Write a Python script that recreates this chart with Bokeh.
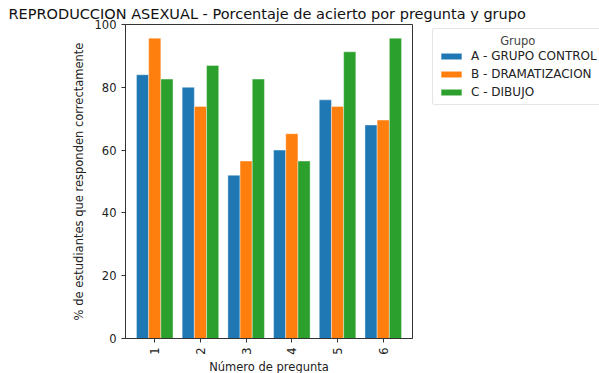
import math
from bokeh.plotting import figure
from bokeh.models import ColumnDataSource, FixedTicker, Legend, LegendItem
from bokeh.transform import dodge
from bokeh.embed import file_html
from bokeh.resources import INLINE

preguntas = ["1", "2", "3", "4", "5", "6"]
grupo_a = [84.0, 80.0, 52.0, 60.0, 76.0, 68.0]
grupo_b = [95.65, 73.91, 56.52, 65.22, 73.91, 69.57]
grupo_c = [82.61, 86.96, 82.61, 56.52, 91.30, 95.65]
series_names = ["A - GRUPO CONTROL", "B - DRAMATIZACION", "C - DIBUJO"]
colors = ["#1f77b4", "#ff7f0e", "#2ca02c"]

xs = list(range(len(preguntas)))
src = ColumnDataSource(dict(x=xs, a=grupo_a, b=grupo_b, c=grupo_c))

FONT = "DejaVu Sans"
p = figure(frame_width=287, frame_height=314, output_backend="svg", toolbar_location=None,
           x_range=(-0.64, 5.64), y_range=(0, 100),
           min_border_left=125, min_border_right=187, min_border_top=24, min_border_bottom=35)
p.title.text = "REPRODUCCION ASEXUAL - Porcentaje de acierto por pregunta y grupo"
p.title.text_font = FONT
p.title.text_font_size = "14.5px"
p.title.text_font_style = "normal"
p.title.text_color = "#111111"
p.title.offset = -117
p.title.standoff = 5

w = 0.8 / 3
renderers = []
for i, (col, name) in enumerate(zip(["a", "b", "c"], series_names)):
    r = p.vbar(x=dodge("x", (i - 1) * w), top=col, width=w, bottom=0, source=src,
               fill_color=colors[i], line_color="white", line_alpha=0.4, line_width=1)
    renderers.append(r)

p.xgrid.visible = False
p.ygrid.visible = False
p.outline_line_color = "#333333"
p.outline_line_width = 1

p.xaxis.ticker = FixedTicker(ticks=xs)
p.xaxis.major_label_overrides = {i: s for i, s in enumerate(preguntas)}
p.xaxis.major_label_orientation = math.pi / 2
p.yaxis.ticker = FixedTicker(ticks=[0, 20, 40, 60, 80, 100])
for ax in (p.xaxis, p.yaxis):
    ax.axis_line_color = "#333333"
    ax.major_tick_line_color = "#333333"
    ax.major_tick_out = 4
    ax.major_tick_in = 0
    ax.minor_tick_line_color = None
    ax.major_label_text_font = FONT
    ax.major_label_text_font_size = "11.5px"
    ax.major_label_text_color = "#222222"
    ax.axis_label_text_font = FONT
    ax.axis_label_text_font_size = "11.5px"
    ax.axis_label_text_font_style = "normal"
    ax.axis_label_text_color = "#222222"
p.xaxis.axis_label = "Número de pregunta"
p.xaxis.axis_label_standoff = 2
p.yaxis.axis_label = "% de estudiantes que responden correctamente"
p.yaxis.axis_label_standoff = 6

legend = Legend(items=[LegendItem(label=n, renderers=[r]) for n, r in zip(series_names, renderers)],
                location=(20, 233), orientation="vertical")
legend.title = " " * 17 + "Grupo"
legend.title_text_font = FONT
legend.title_text_font_size = "11.5px"
legend.title_text_font_style = "normal"
legend.title_standoff = 1
legend.label_text_font = FONT
legend.label_text_font_size = "12px"
legend.label_text_color = "#222222"
legend.glyph_width = 26
legend.glyph_height = 8
legend.label_height = 14
legend.spacing = 4
legend.padding = 5
legend.margin = 0
legend.border_line_color = "#cccccc"
legend.border_radius = 3
legend.label_standoff = 7
p.add_layout(legend, "right")

open("out.html", "w").write(file_html(p, INLINE))
